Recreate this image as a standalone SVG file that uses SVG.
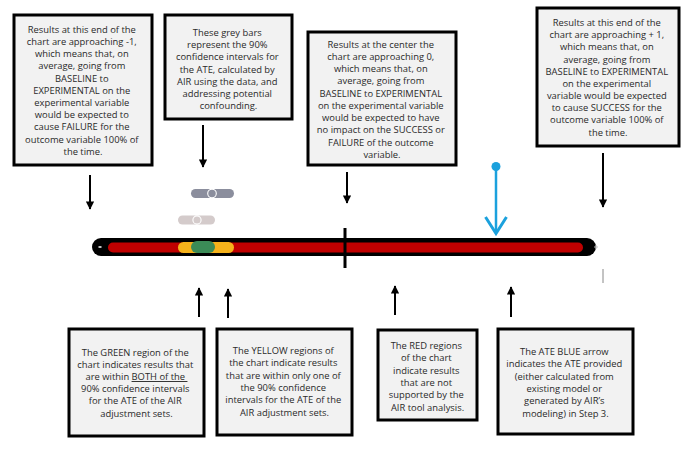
<svg xmlns="http://www.w3.org/2000/svg" width="696" height="449" viewBox="0 0 696 449">
<style>
.box{fill:#F2F2F2;stroke:#000;stroke-width:3}
.t{font-family:"Open Sans","Noto Sans","Liberation Sans",sans-serif;font-size:9.4px;fill:#2a2a2a;text-anchor:middle}
.arr{stroke:#000;stroke-width:2;fill:none;marker-end:url(#ah)}
</style>
<defs>
<marker id="ah" viewBox="0 0 10 10" refX="9" refY="5" markerWidth="4.2" markerHeight="4.2" orient="auto" markerUnits="strokeWidth">
<path d="M0,0 L10,5 L0,10 z" fill="#000"/>
</marker>
</defs>
<rect width="696" height="449" fill="#fff"/>

<g id="box-left">
<rect class="box" x="14" y="15" width="138" height="150"/>
<text class="t" x="83" y="32.8">
<tspan x="83">Results at this end of the</tspan>
<tspan x="83" dy="12.2">chart are approaching -1,</tspan>
<tspan x="83" dy="12.2">which means that, on</tspan>
<tspan x="83" dy="12.2">average, going from</tspan>
<tspan x="83" dy="12.2">BASELINE to</tspan>
<tspan x="83" dy="12.2">EXPERIMENTAL on the</tspan>
<tspan x="83" dy="12.2">experimental variable</tspan>
<tspan x="83" dy="12.2">would be expected to</tspan>
<tspan x="83" dy="12.2">cause FAILURE for the</tspan>
<tspan x="83" dy="12.2">outcome variable 100% of</tspan>
<tspan x="83" dy="12.2">the time.</tspan>
</text>
</g>

<g id="box-grey">
<rect class="box" x="165" y="15" width="127" height="104"/>
<text class="t" x="228.5" y="35.6">
<tspan x="228.5">These grey bars</tspan>
<tspan x="228.5" dy="12.3">represent the 90%</tspan>
<tspan x="228.5" dy="12.3">confidence intervals for</tspan>
<tspan x="228.5" dy="12.3">the ATE, calculated by</tspan>
<tspan x="228.5" dy="12.3">AIR using the data, and</tspan>
<tspan x="228.5" dy="12.3">addressing potential</tspan>
<tspan x="228.5" dy="12.3">confounding.</tspan>
</text>
</g>

<g id="box-center">
<rect class="box" x="308" y="32" width="148" height="133"/>
<text class="t" x="382" y="47.6">
<tspan x="382">Results at the center the</tspan>
<tspan x="382" dy="12.26">chart are approaching 0,</tspan>
<tspan x="382" dy="12.26">which means that, on</tspan>
<tspan x="382" dy="12.26">average, going from</tspan>
<tspan x="382" dy="12.26">BASELINE to EXPERIMENTAL</tspan>
<tspan x="382" dy="12.26">on the experimental variable</tspan>
<tspan x="382" dy="12.26">would be expected to have</tspan>
<tspan x="382" dy="12.26">no impact on the SUCCESS or</tspan>
<tspan x="382" dy="12.26">FAILURE of the outcome</tspan>
<tspan x="382" dy="12.26">variable.</tspan>
</text>
</g>

<g id="box-right">
<rect class="box" x="537" y="8" width="142" height="138"/>
<text class="t" x="608" y="26">
<tspan x="608">Results at this end of the</tspan>
<tspan x="608" dy="12.18">chart are approaching + 1,</tspan>
<tspan x="608" dy="12.18">which means that, on</tspan>
<tspan x="608" dy="12.18">average, going from</tspan>
<tspan x="608" dy="12.18">BASELINE to EXPERIMENTAL</tspan>
<tspan x="608" dy="12.18">on the experimental</tspan>
<tspan x="608" dy="12.18">variable would be expected</tspan>
<tspan x="608" dy="12.18">to cause SUCCESS for the</tspan>
<tspan x="608" dy="12.18">outcome variable 100% of</tspan>
<tspan x="608" dy="12.18">the time.</tspan>
</text>
</g>

<g id="box-green">
<rect class="box" x="69" y="329" width="135" height="107"/>
<text class="t" x="136.5" y="355.6">
<tspan x="136.5">The GREEN region of the</tspan>
<tspan x="136.5" dy="12.2">chart indicates results that</tspan>
<tspan x="136.5" dy="12.2">are within <tspan text-decoration="underline">BOTH of the </tspan></tspan>
<tspan x="136.5" dy="12.2">90% confidence intervals</tspan>
<tspan x="136.5" dy="12.2">for the ATE of the AIR</tspan>
<tspan x="136.5" dy="12.2">adjustment sets.</tspan>
</text>
</g>

<g id="box-yellow">
<rect class="box" x="217" y="329" width="135" height="106"/>
<text class="t" x="284.5" y="354">
<tspan x="284.5">The YELLOW regions of</tspan>
<tspan x="284.5" dy="12.3">the chart indicate results</tspan>
<tspan x="284.5" dy="12.3">that are within only one of</tspan>
<tspan x="284.5" dy="12.3">the 90% confidence</tspan>
<tspan x="284.5" dy="12.3">intervals for the ATE of the</tspan>
<tspan x="284.5" dy="12.3">AIR adjustment sets.</tspan>
</text>
</g>

<g id="box-red">
<rect class="box" x="378" y="330" width="99" height="90"/>
<text class="t" x="427.5" y="349">
<tspan x="427.5">The RED regions</tspan>
<tspan x="427.5" dy="12.3">of the chart</tspan>
<tspan x="427.5" dy="12.3">indicate results</tspan>
<tspan x="427.5" dy="12.3">that are not</tspan>
<tspan x="427.5" dy="12.3">supported by the</tspan>
<tspan x="427.5" dy="12.3">AIR tool analysis.</tspan>
</text>
</g>

<g id="box-blue">
<rect class="box" x="498" y="329" width="135" height="105"/>
<text class="t" x="565.5" y="355">
<tspan x="565.5">The ATE BLUE arrow</tspan>
<tspan x="565.5" dy="12.3">indicates the ATE provided</tspan>
<tspan x="565.5" dy="12.3">(either calculated from</tspan>
<tspan x="565.5" dy="12.3">existing model or</tspan>
<tspan x="565.5" dy="12.3">generated by AIR’s</tspan>
<tspan x="565.5" dy="12.3">modeling) in Step 3.</tspan>
</text>
</g>

<g id="chart">
<rect x="92" y="238" width="504" height="18" rx="9" fill="#000"/>
<rect x="108" y="242.5" width="475" height="10" rx="5" fill="#C00000"/>
<rect x="178" y="242" width="56" height="11" rx="5.5" fill="#F5B21B"/>
<rect x="191" y="241" width="24" height="12" rx="6" fill="#3B8B57"/>
<line x1="98.5" y1="247" x2="101.5" y2="247" stroke="#fff" stroke-width="1.5"/>
<path d="M594,247 h4 M596,245 v4" stroke="#bbb" stroke-width="1"/>
<line x1="345" y1="228" x2="345" y2="268" stroke="#000" stroke-width="3"/>
<line x1="603" y1="269" x2="603" y2="283" stroke="#888" stroke-width="1"/>
</g>

<g id="grey-bars">
<rect x="191" y="189" width="43" height="9" rx="4.5" fill="#8B8E9D"/>
<circle cx="212" cy="193.5" r="4.3" fill="#8B8E9D" stroke="#fff" stroke-width="1.1"/>
<rect x="178" y="215.5" width="37" height="9" rx="4.5" fill="#D4CBCB"/>
<circle cx="197" cy="220" r="4.1" fill="#D4CBCB" stroke="#fff" stroke-width="1.1"/>
</g>

<g id="ate-arrow">
<line x1="496" y1="167" x2="496" y2="233" stroke="#1BA1DD" stroke-width="2.5"/>
<circle cx="496" cy="166.5" r="4.5" fill="#1BA1DD"/>
<polyline points="485.5,217 496,233.5 506.5,217" fill="none" stroke="#1BA1DD" stroke-width="3"/>
</g>

<g id="connectors">
<line class="arr" x1="90" y1="175" x2="90" y2="209"/>
<line class="arr" x1="203" y1="125" x2="203" y2="167"/>
<line class="arr" x1="347" y1="172" x2="347" y2="203"/>
<line class="arr" x1="603" y1="153" x2="603" y2="207"/>
<line class="arr" x1="199" y1="317" x2="199" y2="288"/>
<line class="arr" x1="228" y1="318" x2="228" y2="289"/>
<line class="arr" x1="395" y1="315" x2="395" y2="286"/>
<line class="arr" x1="511" y1="317" x2="511" y2="287"/>
</g>
</svg>
